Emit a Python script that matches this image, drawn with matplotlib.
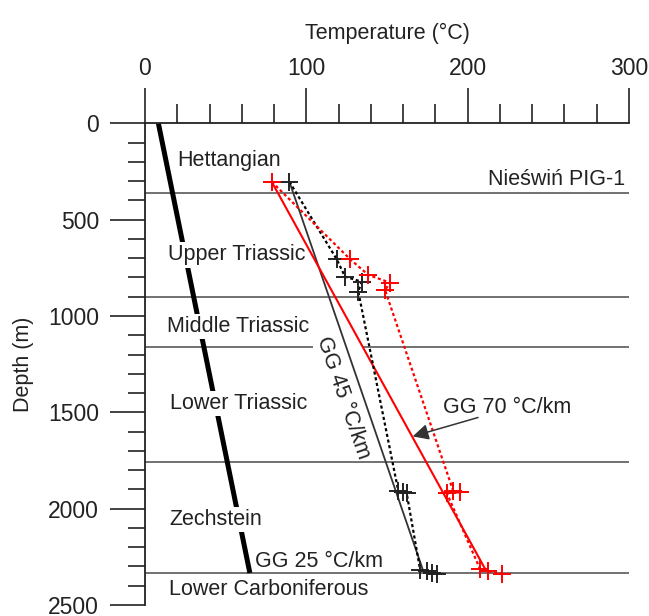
import numpy as np
import matplotlib
matplotlib.use("Agg")
import matplotlib.pyplot as plt
from matplotlib.ticker import MultipleLocator

plt.rcParams['font.family'] = ['Liberation Sans', 'DejaVu Sans']

# stratigraphy
BOUNDARY_DEPTH = [361, 899, 1159, 1758, 2334]
GAP_45 = (104, 135)  # break in the 1159 m line behind the GG 45 label
FORMATIONS = ["Hettangian", "Upper Triassic", "Middle Triassic", "Lower Triassic",
              "Zechstein", "Lower Carboniferous"]
FORM_T = [20.3, 14.4, 13.6, 15.5, 15.1, 15.1]
FORM_D = [194, 683, 1056, 1455, 2057, 2420]

# normal gradient line (GG 25 C/km)
GG25_T = [8.3, 65.0]
GG25_D = [0, 2334]

# measured / modelled temperatures
BLACK_D = [303, 705, 796, 822, 873, 1908, 1915, 1920, 2316, 2325, 2333, 2338]
BLACK_T = [89.5, 118.8, 124.0, 134.3, 132.2, 157.0, 160.1, 162.2, 170.5, 174.6, 177.7, 180.8]
RED_D = [303, 705, 787, 827, 865, 1910, 1915, 1918, 2314, 2325, 2338]
RED_T = [78.5, 127.1, 138.4, 151.9, 148.8, 191.1, 195.3, 187.0, 207.7, 212.8, 221.1]

# gradient lines
GG45_T = [89.5, 172.2]
GG45_D = [303, 2317]
GG70_T = [78.5, 210.5]
GG70_D = [303, 2308]

fig = plt.figure(figsize=(6.49, 6.16), dpi=100)
ax = fig.add_axes([0.2234, 0.0179, 0.7458, 0.7819])

ax.set_xlim(0, 300)
ax.set_ylim(2500, 0)

# formation boundaries
line_c = "#4a4a4a"
for d in BOUNDARY_DEPTH:
    if d == 1159:
        ax.hlines(d, 0, GAP_45[0], color=line_c, lw=1.1, zorder=1)
        ax.hlines(d, GAP_45[1], 300, color=line_c, lw=1.1, zorder=1)
    else:
        ax.hlines(d, 0, 300, color=line_c, lw=1.1, zorder=1)

ax.plot(GG25_T, GG25_D, color="black", lw=3.6, solid_capstyle="butt", zorder=1.5)

lab_box = dict(facecolor="white", edgecolor="none", pad=1.5)
for name, t, d in zip(FORMATIONS, FORM_T, FORM_D):
    ax.text(t, d, name, fontsize=15.5, ha="left", va="center", color="#222222",
            bbox=lab_box, zorder=2)

ax.text(68.2, 2273, "GG 25 °C/km", fontsize=15.5, ha="left", va="center", color="#222222")
ax.text(297.7, 294, "Nieświń PIG-1", fontsize=15.5, ha="right", va="center", color="#222222")

# gradient lines
ax.plot(GG45_T, GG45_D, color="#333333", lw=1.3, zorder=3)
ax.plot(GG70_T, GG70_D, color="red", lw=1.5, zorder=3)

# dotted lines through the data
dots = (0, (1.4, 1.2))
ax.plot(BLACK_T, BLACK_D, color="black", lw=1.6, ls=dots, zorder=3)
ax.plot(RED_T, RED_D, color="red", lw=1.6, ls=dots, zorder=3)

ax.plot(BLACK_T, BLACK_D, ls="none", marker="+", ms=13, mew=1.4, color="#222222", zorder=4)
ax.plot(RED_T, RED_D, ls="none", marker="+", ms=13, mew=1.4, color="red", zorder=4)

ax.text(122.8, 1424, "GG 45 °C/km", fontsize=15.5, rotation=-71, ha="center", va="center",
        color="#222222", rotation_mode="anchor", zorder=2)
ax.text(224.4, 1473, "GG 70 °C/km", fontsize=15.5, ha="center", va="center", color="#222222")
ax.annotate("", xy=(165.9, 1625), xytext=(206.4, 1527),
            arrowprops=dict(arrowstyle="-|>", color="#333333", lw=1.1, mutation_scale=24,
                            shrinkA=0, shrinkB=0), zorder=3)

# axes styling
for s in ["right", "bottom"]:
    ax.spines[s].set_visible(False)
for s in ["top", "left"]:
    ax.spines[s].set_linewidth(1.3)
    ax.spines[s].set_color("#222222")

ax.xaxis.tick_top()
ax.xaxis.set_label_position("top")
ax.xaxis.set_major_locator(MultipleLocator(100))
ax.xaxis.set_minor_locator(MultipleLocator(20))
ax.yaxis.set_major_locator(MultipleLocator(500))
ax.yaxis.set_minor_locator(MultipleLocator(100))
ax.tick_params(which="major", length=25, width=1.2, color="#222222", labelsize=16.5,
               pad=8, labelcolor="#222222")
ax.tick_params(axis="x", which="major", pad=6)
ax.tick_params(axis="x", which="minor", length=13.5, width=1.2, color="#222222")
ax.tick_params(axis="y", which="minor", length=12.5, width=1.2, color="#222222")

ax.set_xlabel("Temperature (°C)", fontsize=15.5, labelpad=13, color="#222222")
ax.set_ylabel("Depth (m)", fontsize=15.5, labelpad=10, color="#222222")

fig.savefig("out.png", dpi=100)
